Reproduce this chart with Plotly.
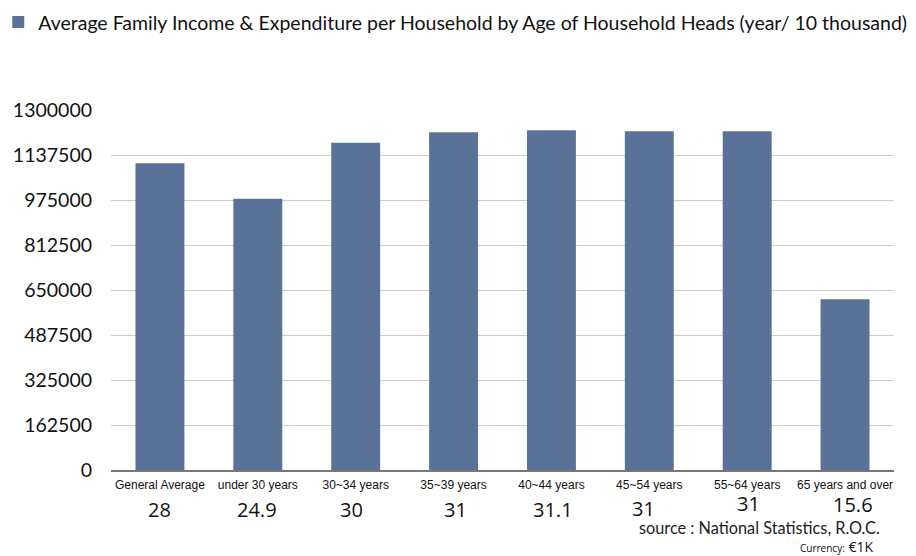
import plotly.graph_objects as go

categories = ["General Average", "under 30 years", "30~34 years", "35~39 years",
              "40~44 years", "45~54 years", "55~64 years", "65 years and over"]
values = [1107500, 979700, 1181900, 1219400, 1226700, 1223000, 1223000, 616400]
small_labels = ["28", "24.9", "30", "31", "31.1", "31", "31", "15.6"]
label_shift = [0, -1, -4, 2, 2, -6, 1, 8]
label_y = [-0.111, -0.111, -0.111, -0.111, -0.111, -0.108, -0.094, -0.097]
y_ticks = [0, 162500, 325000, 487500, 650000, 812500, 975000, 1137500, 1300000]
series_name = "Average Family Income & Expenditure per Household by Age of Household Heads (year/ 10 thousand)"

fig = go.Figure()
fig.add_trace(go.Bar(
    x=categories, y=values, name=series_name,
    marker=dict(color="#5a7297", line=dict(width=0)),
    width=0.5, showlegend=True,
))

for c, lab, dx, yy in zip(categories, small_labels, label_shift, label_y):
    fig.add_annotation(x=c, xref="x", y=yy, yref="paper", yanchor="middle",
                       text=lab, showarrow=False, xshift=dx,
                       font=dict(family="Open Sans", size=20, color="#111111"))

fig.add_annotation(x=0.985, xref="paper", y=-0.160, yref="paper", xanchor="right", yanchor="middle",
                   text="source : National Statistics, R.O.C.", showarrow=False,
                   font=dict(family="Lato", size=16.3, color="#222222"))
fig.add_annotation(x=0.976, xref="paper", y=-0.2135, yref="paper", xanchor="right", yanchor="middle",
                   text="<span style='font-size:10px'>Currency:</span> €1K", showarrow=False,
                   font=dict(family="Open Sans", size=14, color="#111111"))

# page body has an 8px margin, so the figure is sized to the visible area
fig.update_layout(
    width=908, height=548,
    margin=dict(l=103, r=22, t=102, b=86, autoexpand=False),
    paper_bgcolor="white", plot_bgcolor="white",
    bargap=0.5,
    legend=dict(orientation="h", xref="paper", yref="container",
                x=-0.144, xanchor="left", y=0.974, yanchor="middle",
                font=dict(family="Lato", size=19.5, color="#111111"),
                bgcolor="rgba(0,0,0,0)"),
    xaxis=dict(showgrid=False, showline=True, linecolor="#777777", linewidth=1.5,
               tickfont=dict(family="Liberation Sans Narrow, Liberation Sans", size=12, color="#111111"),
               ticks="", fixedrange=True, automargin=False, ticklabelstandoff=3),
    yaxis=dict(range=[0, 1300000], tickvals=y_ticks, ticktext=[str(v) for v in y_ticks],
               showgrid=True, gridcolor="#cccccc", gridwidth=1, zeroline=False,
               tickfont=dict(family="Lato", size=19.5, color="#111111"),
               ticklabelstandoff=18, showline=False, automargin=False),
)

fig.write_html("out.html")
